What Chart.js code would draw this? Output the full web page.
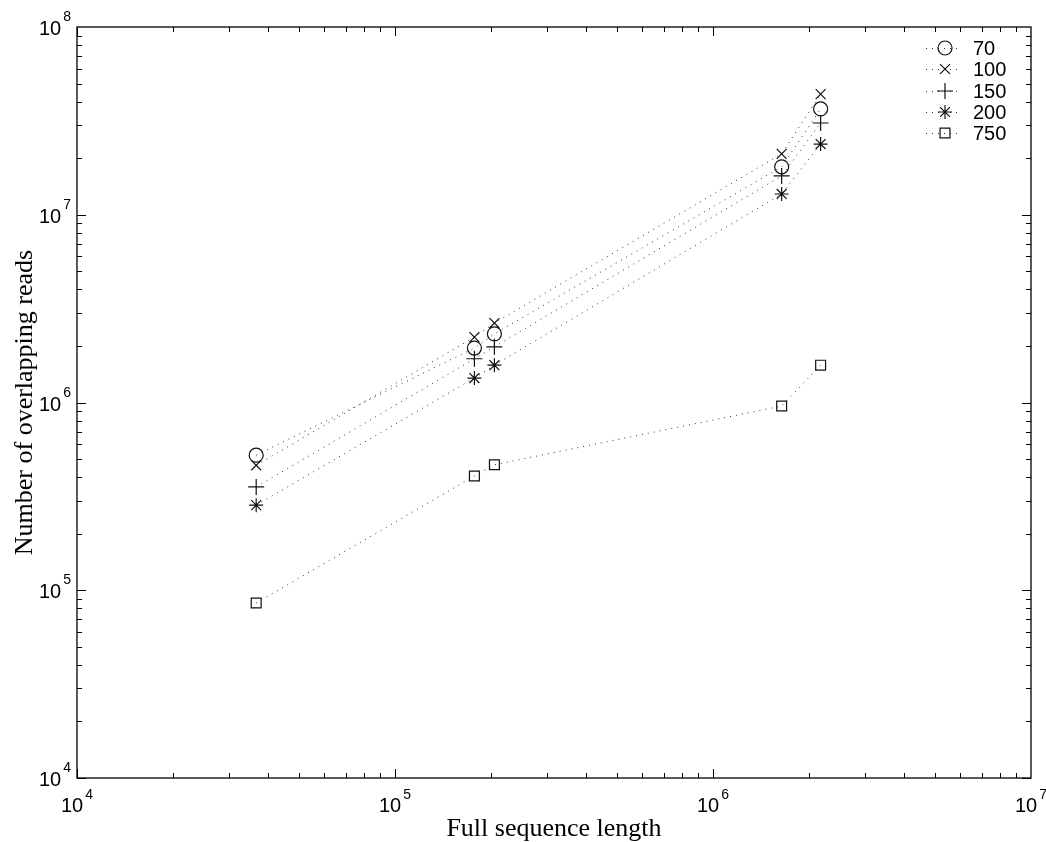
<!DOCTYPE html>
<html>
<head>
<meta charset="utf-8">
<script src="https://cdn.jsdelivr.net/npm/chart.js@4.4.1/dist/chart.umd.min.js"></script>
<style>
  body { margin: 0; background: #fff; }
  canvas { display: block; }
</style>
</head>
<body>
<canvas id="myChart" width="1046" height="842"></canvas>
<script>
// sequence lengths (x) shared by all series
var seqLength = [36600, 177700, 205400, 1644000, 2180000]
// number of overlapping reads per read length
var reads70  = [524000, 1950000, 2320000, 18000000, 36600000]
var reads100 = [463000, 2230000, 2650000, 21100000, 43900000]
var reads150 = [355000, 1710000, 1980000, 16100000, 30800000]
var reads200 = [284000, 1350000, 1580000, 12900000, 23800000]
var reads750 = [85500, 406000, 466000, 958000, 1580000]
var seriesLabels = ['70', '100', '150', '200', '750']
var markers = ['circle', 'crossRot', 'cross', 'star', 'rect']
var markerSize = [7, 7, 8, 7, 7]
var xTicks = [1e4, 1e5, 1e6, 1e7]
var yTicks = [1e4, 1e5, 1e6, 1e7, 1e8]

var allReads = [reads70, reads100, reads150, reads200, reads750]

function makeSet(i) {
  var pts = []
  for (var k = 0; k < seqLength.length; k++) {
    pts.push({x: seqLength[k], y: allReads[i][k]})
  }
  return {
    label: seriesLabels[i],
    data: pts,
    showLine: true,
    borderColor: '#333',
    borderWidth: 1,
    borderDash: [1, 5],
    pointStyle: markers[i],
    pointRadius: markerSize[i],
    pointBorderColor: '#111',
    pointBackgroundColor: 'rgba(0,0,0,0)',
    pointBorderWidth: 1.2
  }
}

var sets = []
for (var i = 0; i < seriesLabels.length; i++) sets.push(makeSet(i))

function exp10(v) { return Math.round(Math.log10(v)) }

var baseFont = '20px "Liberation Sans", Arial, sans-serif'
var expFont = '14px "Liberation Sans", Arial, sans-serif'

// matlab-like box, inward ticks, labels and legend
var matlabAxes = {
  id: 'matlabAxes',
  afterDraw: function(chart) {
    var ctx = chart.ctx
    var a = chart.chartArea
    var xs = chart.scales.x, ys = chart.scales.y
    ctx.save()
    ctx.strokeStyle = '#000'
    ctx.lineWidth = 1.3
    ctx.strokeRect(a.left, a.top, a.right - a.left, a.bottom - a.top)

    ctx.lineWidth = 1
    ctx.beginPath()
    // x ticks
    for (var d = 4; d < 7; d++) {
      for (var m = 1; m <= 9; m++) {
        var px = Math.round(xs.getPixelForValue(m * Math.pow(10, d))) + 0.5
        var len = (m == 1) ? 9 : 5
        ctx.moveTo(px, a.bottom); ctx.lineTo(px, a.bottom - len)
        ctx.moveTo(px, a.top); ctx.lineTo(px, a.top + len)
      }
    }
    // y ticks
    for (var d = 4; d < 8; d++) {
      for (var m = 1; m <= 9; m++) {
        var py = Math.round(ys.getPixelForValue(m * Math.pow(10, d))) + 0.5
        var len = (m == 1) ? 9 : 5
        ctx.moveTo(a.left, py); ctx.lineTo(a.left + len, py)
        ctx.moveTo(a.right, py); ctx.lineTo(a.right - len, py)
      }
    }
    ctx.stroke()

    ctx.fillStyle = '#000'
    ctx.textBaseline = 'alphabetic'
    // x tick labels
    xTicks.forEach(function(v) {
      var px = xs.getPixelForValue(v)
      var e = String(exp10(v))
      ctx.font = baseFont
      var w1 = ctx.measureText('10').width
      ctx.font = expFont
      var w2 = ctx.measureText(e).width
      var x0 = px - (w1 + w2 + 2) / 2
      ctx.textAlign = 'left'
      ctx.font = baseFont
      ctx.fillText('10', x0, a.bottom + 34)
      ctx.font = expFont
      ctx.fillText(e, x0 + w1 + 2, a.bottom + 21)
    })
    // y tick labels
    yTicks.forEach(function(v) {
      var py = ys.getPixelForValue(v)
      var e = String(exp10(v))
      ctx.font = expFont
      var w2 = ctx.measureText(e).width
      ctx.textAlign = 'left'
      ctx.fillText(e, a.left - 6 - w2, py - 6)
      ctx.font = baseFont
      ctx.textAlign = 'right'
      ctx.fillText('10', a.left - 8 - w2, py + 8)
    })

    // axis titles
    ctx.font = '26px "Liberation Serif", "Times New Roman", serif'
    ctx.textAlign = 'center'
    ctx.fillText('Full sequence length', (a.left + a.right) / 2, 836)
    ctx.save()
    ctx.translate(32, (a.top + a.bottom) / 2)
    ctx.rotate(-Math.PI / 2)
    ctx.fillText('Number of overlapping reads', 0, 0)
    ctx.restore()

    // legend, inside top right
    var rowY = [48, 69, 91, 112, 133]
    chart.data.datasets.forEach(function(ds, i) {
      var y = rowY[i]
      ctx.save()
      ctx.strokeStyle = '#333'
      ctx.lineWidth = 1
      ctx.setLineDash([1, 5])
      ctx.beginPath()
      ctx.moveTo(926, y + 0.5); ctx.lineTo(962, y + 0.5)
      ctx.stroke()
      ctx.restore()
      ctx.strokeStyle = '#111'
      ctx.fillStyle = 'rgba(0,0,0,0)'
      ctx.lineWidth = 1.2
      Chart.helpers.drawPoint(ctx, {pointStyle: ds.pointStyle, radius: ds.pointRadius, borderWidth: 1.2, rotation: 0}, 945, y)
      ctx.fillStyle = '#000'
      ctx.font = '20px "Liberation Sans", Arial, sans-serif'
      ctx.textAlign = 'left'
      ctx.textBaseline = 'middle'
      ctx.fillText(ds.label, 973, y + 1)
      ctx.textBaseline = 'alphabetic'
    })
    ctx.restore()
  }
}

var ctx = document.getElementById('myChart')
var myChart = new Chart(ctx, {
  type: 'scatter',
  data: { datasets: sets },
  options: {
    responsive: false,
    animation: false,
    layout: { padding: { top: 27, right: 15, left: 0, bottom: 0 } },
    plugins: { legend: { display: false }, tooltip: { enabled: false } },
    scales: {
      x: {
        type: 'logarithmic', min: 1e4, max: 1e7,
        ticks: { display: false }, grid: { display: false }, border: { display: false },
        afterFit: function(s) { s.height = 64 }
      },
      y: {
        type: 'logarithmic', min: 1e4, max: 1e8,
        ticks: { display: false }, grid: { display: false }, border: { display: false },
        afterFit: function(s) { s.width = 77 }
      }
    }
  },
  plugins: [matlabAxes]
})
</script>
</body>
</html>
